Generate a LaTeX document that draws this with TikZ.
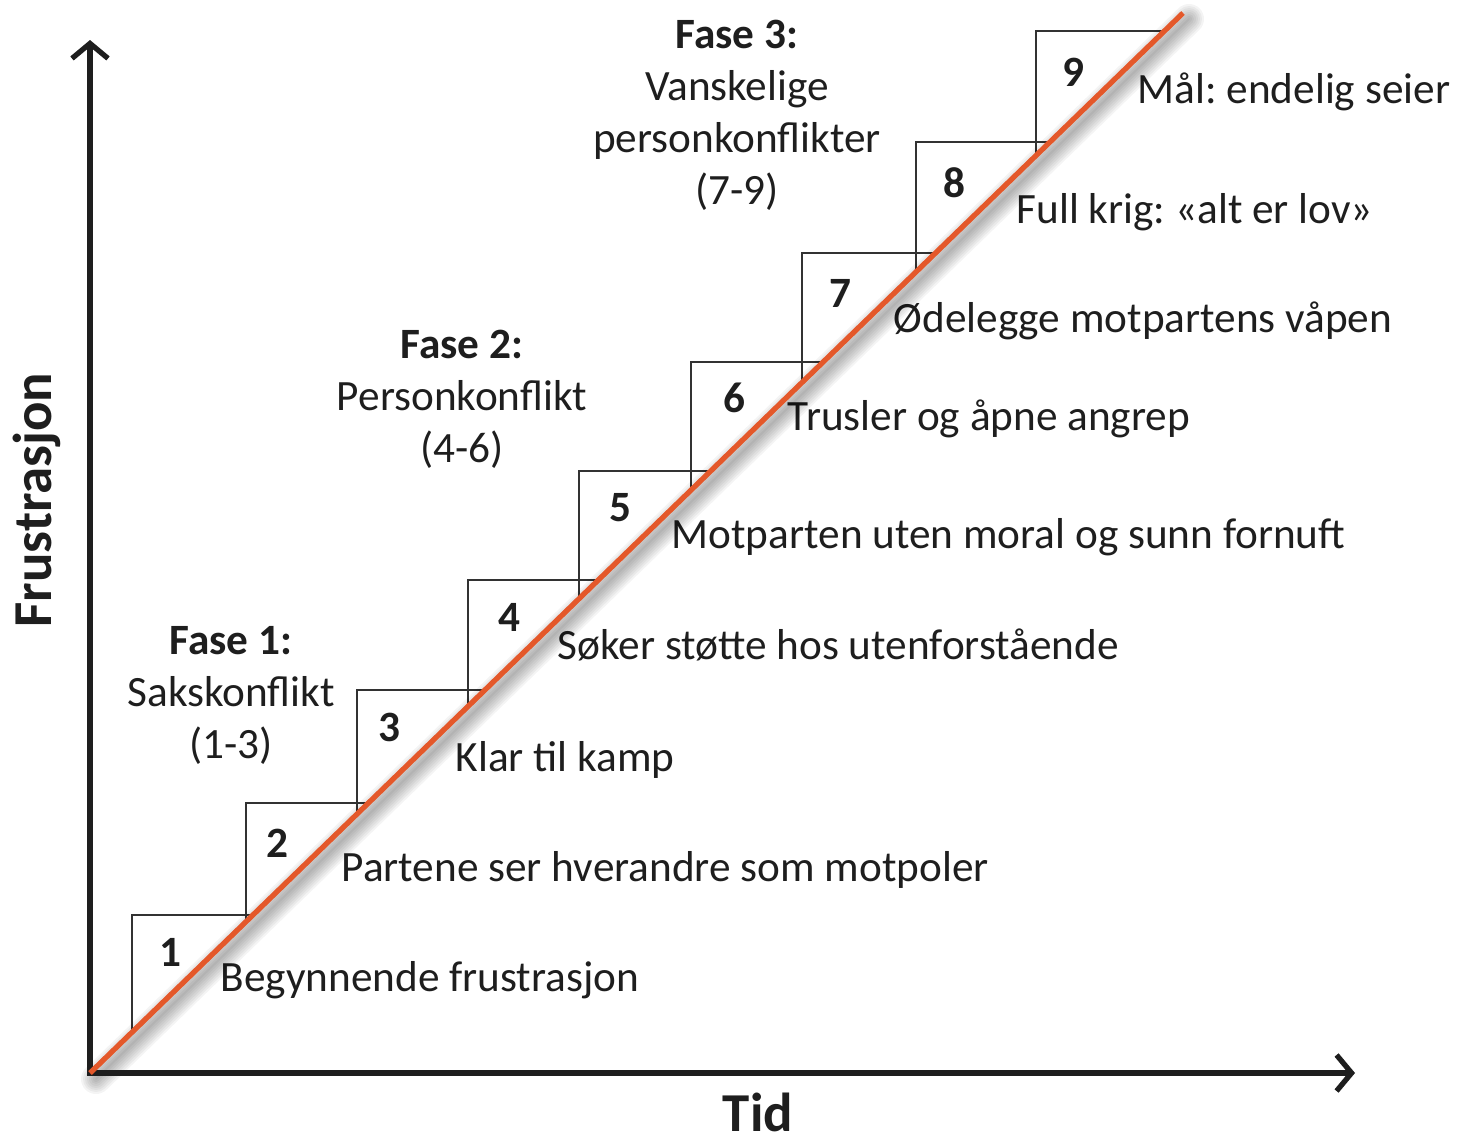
\documentclass[tikz,border=0pt]{standalone}
\usepackage{fontspec}
\setmainfont{Carlito}
\frenchspacing
\usetikzlibrary{arrows.meta, calc}
\definecolor{myorange}{RGB}{228,88,42}
\definecolor{mydark}{RGB}{30,30,30}
\definecolor{mygray}{RGB}{50,50,50}
\tikzset{
  axis/.style={line width=1.5pt, color=mydark, line join=miter},
  barb/.tip={Straight Barb[length=1.5mm, width=3.6mm]},
  redline/.style={line width=1.5pt, color=myorange},
  stepline/.style={line width=0.35pt, color=mygray},
  numlabel/.style={font=\fontsize{12.3}{14.8}\selectfont\bfseries, color=mydark, inner sep=0pt},
  steplabel/.style={font=\fontsize{12.3}{14.8}\selectfont, color=mydark, anchor=west, inner sep=0pt},
  faselabel/.style={font=\fontsize{12.3}{14.8}\selectfont, color=mydark, align=center, inner sep=0pt},
  axislabel/.style={font=\fontsize{15.6}{18}\selectfont\bfseries, color=mydark, inner sep=0pt}
}
\begin{document}
\begin{tikzpicture}[x=0.01cm, y=-0.01cm]
  \useasboundingbox (0,0) rectangle (1460,1139);
  \coordinate (O) at (90,1073);
  \coordinate (ytop) at (90,40);
  \coordinate (xend) at (1355,1073);
  \coordinate (top) at (1183,13);

  % Steps with numbers and texts
  \foreach \n/\x/\y/\nx/\ny/\lx/\ly/\txt in {
      1/132/915/170/952/220/980/Begynnende frustrasjon,
      2/246/803/277/843/341/870/Partene ser hverandre som motpoler,
      3/357/690/389/727/455/760/Klar til kamp,
      4/468/580/509/617/557/645/Søker støtte hos utenforstående,
      5/579/471/620/508/671/537/Motparten uten moral og sunn fornuft,
      6/691/362/734/398/787/419/Trusler og åpne angrep,
      7/802/253/840/293/893/321/Ødelegge motpartens våpen,
      8/916/142/954/183/1016/212/Full krig: «alt er lov»,
      9/1036/31/1073/72/1137/92/Mål: endelig seier} {
    \pgfmathsetmacro\ya{1073-0.9698*(\x-90)}
    \pgfmathsetmacro\xb{90+(1073-\y)/0.9698}
    \draw[stepline] (\x,\ya) -- (\x,\y) -- (\xb,\y);
    \node[numlabel] (num\n) at (\nx,\ny) {\n};
    \node[steplabel] (lbl\n) at (\lx,\ly) {\txt};
  }

  % Soft shadow under the line
  \foreach \w in {30,26,...,2} {
    \pgfmathsetmacro\lw{\w*0.2845}
    \draw[line width=\lw pt, black, opacity=0.045, line cap=round]
      ($(O)+(6,6)$) -- ($(top)+(6,6)$);
  }

  % Axes
  \draw[axis, barb-barb] (ytop) -- (O) -- (xend);
  \draw[redline] (O) -- (top);

  % Phase texts
  \node[faselabel] (fase1) at (231,695) {\textbf{Fase 1:}\\Sakskonflikt\\(1-3)};
  \node[faselabel] (fase2) at (462,399) {\textbf{Fase 2:}\\Personkonflikt\\(4-6)};
  \node[faselabel] (fase3) at (737,115) {\textbf{Fase 3:}\\Vanskelige\\personkonflikter\\(7-9)};

  % Axis labels
  \node[axislabel, rotate=90] (ylabel) at (37,500) {Frustrasjon};
  \node[axislabel] (xlabel) at (758,1112) {Tid};
\end{tikzpicture}
\end{document}
